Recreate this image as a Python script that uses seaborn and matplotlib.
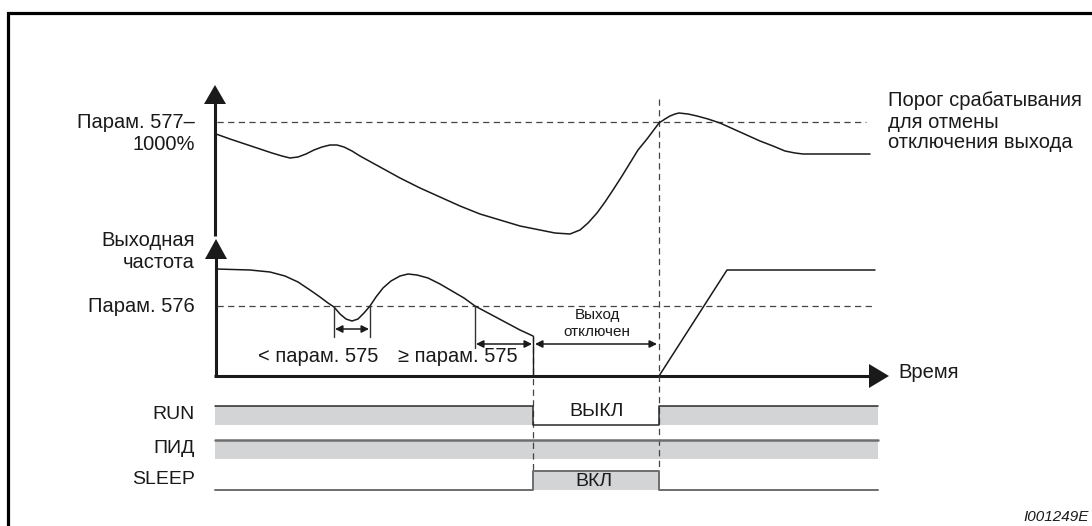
import matplotlib
matplotlib.use("Agg")
import matplotlib.pyplot as plt
import seaborn as sns
from matplotlib.patches import Polygon

# =============================================================================
# Data (diagram units: x = time, y = screen row, growing downward)
# =============================================================================

t_start, t_sleep, t_wake, t_end = 215, 533, 659, 878

# feedback value (top panel)
fb_t = [216, 230, 245, 260, 272, 282, 290, 298, 306, 314, 322, 330, 337, 344,
        352, 360, 380, 400, 420, 440, 460, 480, 500, 520, 540, 555, 570, 580,
        588, 597, 605, 613, 622, 630, 638, 647, 653, 659, 665, 670, 675, 679,
        688, 697, 708, 720, 740, 760, 773, 785, 795, 803, 870]
fb_y = [134, 139, 144, 149, 153, 156, 158, 157, 154, 150, 147, 145, 145, 147,
        151, 156, 167, 178, 188, 197, 206, 214, 220, 226, 230, 233, 234, 230,
        223, 213, 202, 190, 176, 163, 150, 139, 131, 123, 119, 116, 114, 113,
        114, 116, 119, 123, 132, 141, 146, 151, 153, 154, 154]
fb_threshold = 122

# output frequency (middle panel)
freq_t = [216, 250, 270, 285, 298, 310, 320, 328, 334, 340, 346, 352, 358, 364,
          370, 376, 383, 391, 400, 408, 417, 428, 440, 452, 464, 475, 490, 505,
          520, 533]
freq_y = [269, 270, 272, 276, 282, 290, 297, 303, 307, 314, 319, 321, 319, 313,
          306, 297, 288, 281, 276, 274, 275, 278, 284, 291, 298, 306, 314, 322,
          330, 336]
freq_wake_t = [659, 727, 875]
freq_wake_y = [376, 270, 270]
freq_limit = 306
time_axis = 376

# on/off signals
sig_t = [t_start, t_sleep, t_sleep, t_wake, t_wake, t_end]
run_state = [1, 1, 0, 0, 1, 1]
pid_state = [1, 1, 1, 1, 1, 1]
sleep_state = [0, 0, 1, 1, 0, 0]
sig_rows = {"RUN": 406, "ПИД": 440, "SLEEP": 471}
sig_height = 19

GRAY = "#d3d4d6"
INK = "#1a1a1a"
DASH = "#444444"

sns.set_theme(style="white")
plt.rcParams["font.family"] = ["Liberation Sans", "DejaVu Sans"]

fig = plt.figure(figsize=(10.92, 5.26), dpi=100)
ax = fig.add_axes([0, 0, 1, 1])

# frame (left + top)
ax.plot([8, 8, 1092], [526, 13, 13], color="black", lw=2.3, solid_joinstyle="miter")

# --- axes with arrowheads ---
def arrow_axis(x0, y0, x1, y1, head):
    ax.plot([x0, x1], [y0, y1], color=INK, lw=2.2, solid_capstyle="butt")
    ax.add_patch(Polygon(head, closed=True, color=INK, lw=0))

arrow_axis(215, 236, 215, 100, [(204, 104), (226, 104), (215, 85)])
arrow_axis(216, time_axis + 1, 216, 255, [(205, 259), (227, 259), (216, 239)])
arrow_axis(214, time_axis, 872, time_axis, [(869, 364), (869, 388), (889, time_axis)])

# --- threshold / limit dashed lines ---
dash = dict(color=DASH, lw=0.9, dashes=(5, 3.5))
ax.plot([217, 866], [fb_threshold, fb_threshold], **dash)
ax.plot([217, 875], [freq_limit, freq_limit], **dash)
ax.plot([t_sleep, t_sleep], [336, 471], **dash)
ax.plot([t_wake, t_wake], [99, 471], **dash)

# --- curves ---
line_kw = dict(ax=ax, color=INK, linewidth=1.1, estimator=None, sort=False)
sns.lineplot(x=fb_t, y=fb_y, **line_kw)
sns.lineplot(x=freq_t, y=freq_y, **line_kw)
sns.lineplot(x=freq_wake_t, y=freq_wake_y, **line_kw)
ax.plot([t_sleep, t_sleep], [freq_y[-1], time_axis], color=INK, lw=1.0)

# --- time markers below the frequency curve ---
tick_kw = dict(color="#333333", lw=1.0)
ax.plot([334, 334], [freq_limit, 337], **tick_kw)
ax.plot([370, 370], [freq_limit, 337], **tick_kw)
ax.plot([475, 475], [freq_limit, 348], **tick_kw)

dbl = dict(arrowstyle="<|-|>", color=INK, lw=1.1, mutation_scale=11,
           shrinkA=0, shrinkB=0)
ax.annotate("", xy=(369, 329), xytext=(335, 329), arrowprops=dbl)
ax.annotate("", xy=(532, 344), xytext=(476, 344), arrowprops=dbl)
ax.annotate("", xy=(657, 344), xytext=(535, 344), arrowprops=dbl)

ax.text(318, 357, "< парам. 575", ha="center", va="center", fontsize=14.5, color=INK)
ax.text(458, 357, "≥ парам. 575", ha="center", va="center", fontsize=14.5, color=INK)
ax.text(597, 315, "Выход", ha="center", va="center", fontsize=11, color=INK)
ax.text(597, 332, "отключен", ha="center", va="center", fontsize=11, color=INK)

# --- signals ---
sig_colors = {"RUN": "#2a2a2a", "ПИД": "#6e6e6e", "SLEEP": "#6e6e6e"}
sig_widths = {"RUN": 1.1, "ПИД": 1.8, "SLEEP": 1.4}
for name, state in zip(sig_rows, [run_state, pid_state, sleep_state]):
    top = sig_rows[name]
    bottom = top + sig_height
    ys = [bottom - s * sig_height for s in state]
    ax.fill_between(sig_t, ys, bottom, color=GRAY, lw=0)
    sns.lineplot(x=sig_t, y=ys, ax=ax, color=sig_colors[name],
                 linewidth=sig_widths[name], estimator=None, sort=False)
    ax.text(195, top + sig_height / 2 - 1, name, ha="right", va="center",
            fontsize=14, color=INK)

ax.text(597, 412, "ВЫКЛ", ha="center", va="center", fontsize=14, color=INK)
ax.text(594, 482, "ВКЛ", ha="center", va="center", fontsize=14, color=INK)

# --- labels ---
lab = dict(ha="right", va="center", fontsize=14.5, color=INK)
ax.text(195, 122, "Парам. 577–", **lab)
ax.text(195, 145, "1000%", **lab)
ax.text(195, 240, "Выходная", **lab)
ax.text(195, 262, "частота", **lab)
ax.text(195, 307, "Парам. 576", **lab)

right = dict(ha="left", va="center", fontsize=14.5, color=INK)
ax.text(888, 100, "Порог срабатывания", **right)
ax.text(888, 122, "для отмены", **right)
ax.text(888, 143, "отключения выхода", **right)
ax.text(898, 373, "Время", **right)

ax.text(1089, 517, "I001249E", ha="right", va="center", fontsize=11,
        style="italic", color=INK)

ax.set_xlim(0, 1092)
ax.set_ylim(526, 0)
ax.axis("off")

plt.savefig("out.png", dpi=100)
